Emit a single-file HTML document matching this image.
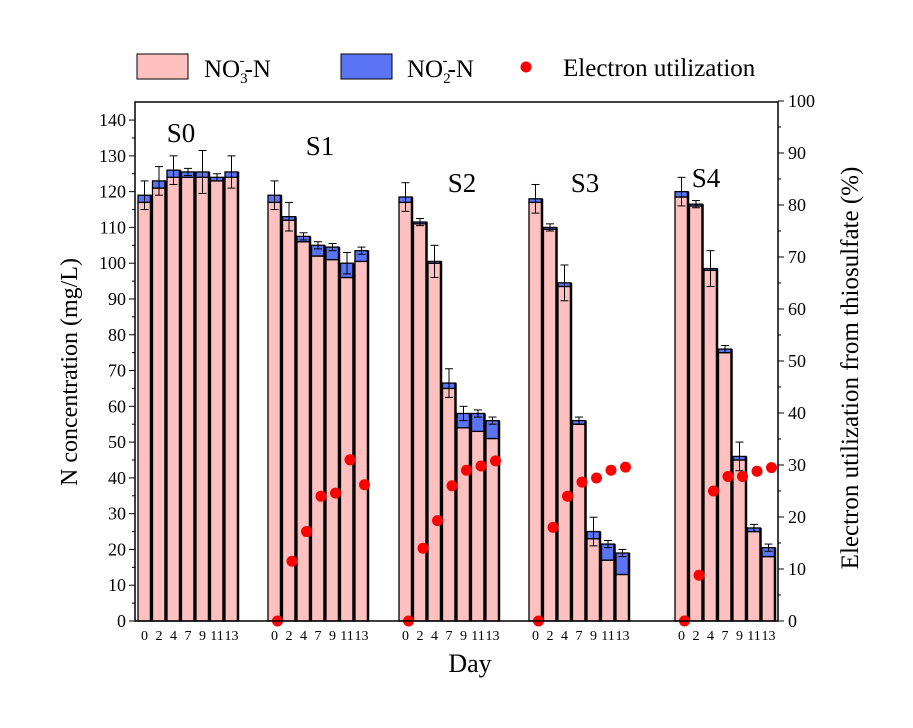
<!DOCTYPE html><html><head><meta charset="utf-8"><style>body{margin:0;background:#fff}svg{display:block;font-family:"Liberation Serif",serif}</style></head><body>
<svg id="s" width="913" height="728" xmlns="http://www.w3.org/2000/svg"></svg>
<script>
(function(){
const s=document.getElementById('s');let h='';
const Y0=621,L=3.578,R=5.2,x0=135,x1=778,TP=102;
const yl=v=>Y0-v*L, yr=v=>Y0-v*R;
const starts=[138,268,399,529,675],P=14.5,W=13;
const tot=[[119,123,126,125.5,125.5,124,125.5],[119,113,107.5,105,104.5,100,103.5],[118.5,111.5,100.5,66.5,58,58,56],[118,110,94.5,56,25,21.5,19],[120,116.5,98.5,76,46,26,20.5]];
const no3=[[117,121,124,124,124,123,124],[117,112,106,102,101,96,100.5],[117,111,100,65,54,53,51],[117,109.5,93.5,55,23,17,13],[118.5,116,98,75,45,25,18]];
const err=[[4,4,4,1,6,1,4.5],[4,4,1,1,1,3,1],[4,1,4.5,4,2,1,1],[4,1,5,1,4,1,1],[4,1,5,1,4,1,1]];
const el=[[],[0,11.5,17.2,24,24.6,31,26.2],[0,14,19.3,26,29,29.8,30.8],[0,18,24,26.7,27.5,29,29.6],[0,8.8,25,27.8,27.8,28.8,29.5]];
const days=['0','2','4','7','9','11','13'];
for(let g=0;g<5;g++){for(let i=0;i<7;i++){const x=starts[g]+i*P;
h+=`<rect x="${x}" y="${yl(no3[g][i])}" width="${W}" height="${no3[g][i]*L}" fill="#ffc0c0" stroke="#000" stroke-width="1.3"/>`;
h+=`<rect x="${x}" y="${yl(tot[g][i])}" width="${W}" height="${(tot[g][i]-no3[g][i])*L}" fill="#5b73f5" stroke="#000" stroke-width="1.3"/>`;
h+=`<line x1="${x+W}" y1="${yl(tot[g][i])}" x2="${x+W}" y2="${Y0}" stroke="#000" stroke-width="2.5"/>`;
const c=x+W/2,t=yl(tot[g][i]),e=err[g][i]*L;
h+=`<line x1="${c}" y1="${t-e}" x2="${c}" y2="${t+e}" stroke="#000" stroke-width="1"/><line x1="${c-4}" y1="${t-e}" x2="${c+4}" y2="${t-e}" stroke="#000"/><line x1="${c-4}" y1="${t+e}" x2="${c+4}" y2="${t+e}" stroke="#000"/>`;
h+=`<text x="${c}" y="640" font-size="14" text-anchor="middle">${days[i]}</text>`;}}
for(let g=1;g<5;g++)for(let i=0;i<7;i++){h+=`<circle cx="${starts[g]+i*P+W/2+3}" cy="${yr(el[g][i])}" r="5.5" fill="#f00"/>`;}
h+=`<rect x="${x0}" y="${TP}" width="${x1-x0}" height="${Y0-TP}" fill="none" stroke="#000" stroke-width="1.5"/>`;
for(let v=0;v<=140;v+=5){const y=yl(v);h+=`<line x1="${x0}" y1="${y}" x2="${x0-(v%10?3:6)}" y2="${y}" stroke="#000"/>`;if(v%10==0)h+=`<text x="${x0-9}" y="${y+6}" font-size="18" text-anchor="end">${v}</text>`;}
for(let v=0;v<=100;v+=5){const y=yr(v);h+=`<line x1="${x1}" y1="${y}" x2="${x1+(v%10?3:6)}" y2="${y}" stroke="#000"/>`;if(v%10==0)h+=`<text x="${x1+10}" y="${y+6}" font-size="18">${v}</text>`;}
[['S0',181,142],['S1',320,155],['S2',462,192],['S3',585,192],['S4',706,187]].forEach(a=>h+=`<text x="${a[1]}" y="${a[2]}" font-size="27" text-anchor="middle">${a[0]}</text>`);
h+=`<text x="470" y="672" font-size="26" text-anchor="middle">Day</text>`;
h+=`<text transform="translate(77,372) rotate(-90)" font-size="24" text-anchor="middle">N concentration (mg/L)</text>`;
h+=`<text transform="translate(858,368) rotate(-90)" font-size="25" text-anchor="middle">Electron utilization  from thiosulfate (%)</text>`;
h+=`<rect x="137" y="54" width="51" height="25" fill="#ffc0c0" stroke="#000"/><text x="204" y="77" font-size="25">NO<tspan font-size="15" dy="6">3</tspan><tspan font-size="15" dx="-8" dy="-18">-</tspan><tspan dy="12">-N</tspan></text>`;
h+=`<rect x="341" y="54" width="51" height="25" fill="#5b73f5" stroke="#000"/><text x="407" y="77" font-size="25">NO<tspan font-size="15" dy="6">2</tspan><tspan font-size="15" dx="-8" dy="-18">-</tspan><tspan dy="12">-N</tspan></text>`;
h+=`<circle cx="526" cy="67" r="5.5" fill="#f00"/><text x="563" y="76" font-size="25">Electron utilization</text>`;
s.innerHTML=h;
})();
</script></body></html>
